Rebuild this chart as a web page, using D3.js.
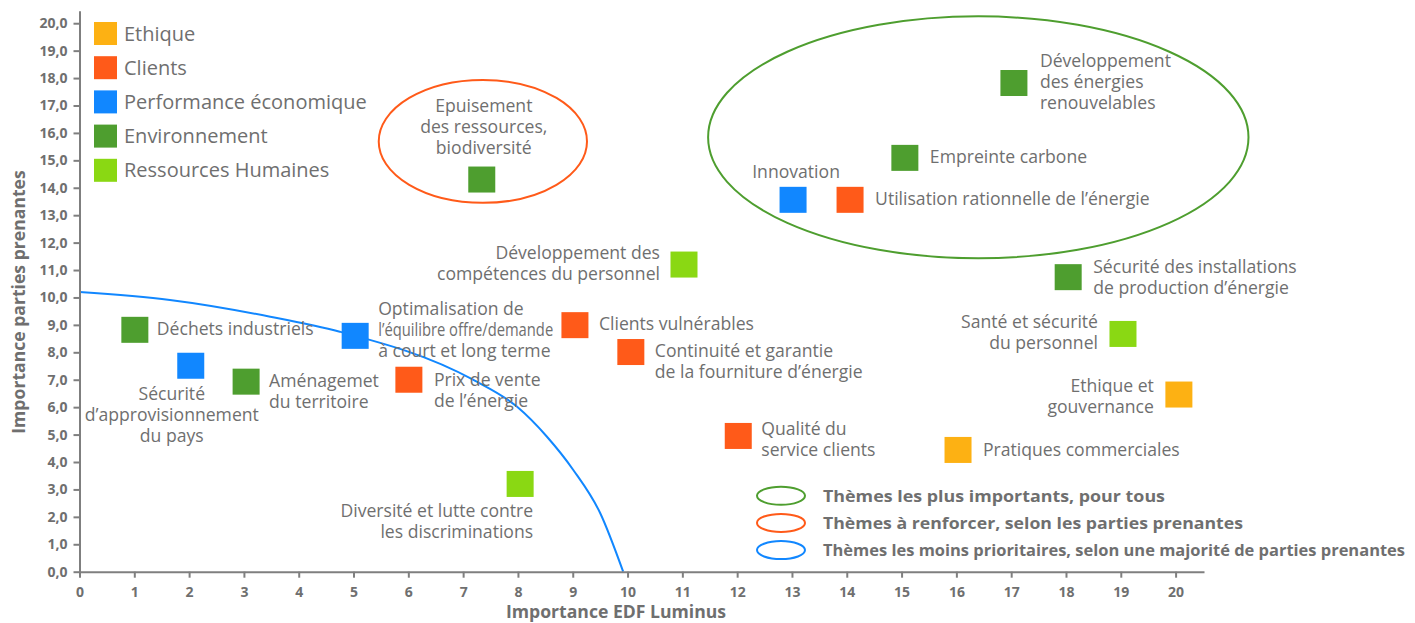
<!DOCTYPE html>
<html>
<head>
<meta charset="utf-8">
<script src="https://cdn.jsdelivr.net/npm/d3@7"></script>
<style>
  body { margin: 0; background: #fff; }
  svg { font-family: 'Open Sans', sans-serif; }
  .axis path, .axis line { stroke: #7f7f7f; stroke-width: 2; }
  .axis text { fill: #6f6f6f; font-weight: bold; font-size: 14px; font-family: 'Open Sans', sans-serif; }
  .theme-label { fill: #6f6f6f; font-size: 17.6px; }
  .legend-label { fill: #6f6f6f; font-size: 20px; }
  .zone-label { fill: #6f6f6f; font-size: 16.4px; font-weight: bold; }
  .axis-title { fill: #6f6f6f; font-size: 17.6px; font-weight: bold; }
</style>
</head>
<body>
<svg id="chart" width="1415" height="623"></svg>
<script>
// categories of themes
const categories = ['Ethique', 'Clients', 'Performance économique', 'Environnement', 'Ressources Humaines']
const categoryColors = ['#fdb113', '#ff5a19', '#1187ff', '#4e9e2f', '#8ad813']

// themes (label lines), importance EDF Luminus (x), importance parties prenantes (y), category
const themeNames = [
  ['Déchets industriels'],
  ['Sécurité', 'd’approvisionnement', 'du pays'],
  ['Aménagemet', 'du territoire'],
  ['Optimalisation de', 'l’équilibre offre/demande', 'à court et long terme'],
  ['Prix de vente', 'de l’énergie'],
  ['Epuisement', 'des ressources,', 'biodiversité'],
  ['Diversité et lutte contre', 'les discriminations'],
  ['Clients vulnérables'],
  ['Continuité et garantie', 'de la fourniture d’énergie'],
  ['Développement des', 'compétences du personnel'],
  ['Qualité du', 'service clients'],
  ['Innovation'],
  ['Utilisation rationnelle de l’énergie'],
  ['Empreinte carbone'],
  ['Pratiques commerciales'],
  ['Développement', 'des énergies', 'renouvelables'],
  ['Sécurité des installations', 'de production d’énergie'],
  ['Santé et sécurité', 'du personnel'],
  ['Ethique et', 'gouvernance']
]
const themeX = [1.01, 2.03, 3.04, 5.03, 6.01, 7.34, 8.04, 9.04, 10.06, 11.03, 12.02, 13.02, 14.06, 15.06, 16.03, 17.05, 18.04, 19.04, 20.06]
const themeY = [8.82, 7.51, 6.93, 8.6, 7.0, 14.3, 3.2, 8.99, 8.01, 11.2, 4.95, 13.56, 13.56, 15.09, 4.44, 17.82, 10.74, 8.67, 6.46]
const themeCategory = [3, 2, 3, 2, 1, 3, 4, 1, 1, 4, 1, 2, 1, 3, 0, 3, 3, 4, 0]

// zones drawn as ellipses (data units)
const zoneNames = [
  'Thèmes les plus importants, pour tous',
  'Thèmes à renforcer, selon les parties prenantes',
  'Thèmes les moins prioritaires, selon une majorité de parties prenantes'
]
const zoneColors = ['#4e9e2f', '#ff5a19', '#1187ff']
const zoneCx = [16.40, 7.36]
const zoneCy = [15.84, 15.69]
const zoneRx = [4.93, 1.90]
const zoneRy = [4.41, 2.24]

// threshold curve of the least prioritary themes
const curveX = [0, 1.65, 3.48, 4.75, 7.18, 7.98, 8.53, 9.01, 9.5, 9.92]
const curveY = [10.2, 9.91, 9.3, 8.75, 7.0, 6.02, 4.92, 3.71, 2.14, 0]

const xTicks = d3.range(0, 21)
const yTicks = d3.range(0, 21)

// label placement around the squares (px)
const labelLayout = [
  { anchor: 'start', dx: 22, dy: 5 },
  { anchor: 'middle', dx: -19, dy: 34 },
  { anchor: 'start', dx: 23, dy: 5 },
  { anchor: 'start', dx: 23, dy: -21, condensed: 1 },
  { anchor: 'start', dx: 25, dy: 6 },
  { anchor: 'middle', dx: 2, dy: -68 },
  { anchor: 'end', dx: 13, dy: 33 },
  { anchor: 'start', dx: 24, dy: 5 },
  { anchor: 'start', dx: 24, dy: 5 },
  { anchor: 'end', dx: -24, dy: -6 },
  { anchor: 'start', dx: 23, dy: -1 },
  { anchor: 'middle', dx: 3, dy: -22 },
  { anchor: 'start', dx: 25, dy: 5 },
  { anchor: 'start', dx: 25, dy: 5 },
  { anchor: 'start', dx: 25, dy: 6 },
  { anchor: 'start', dx: 26, dy: -16 },
  { anchor: 'start', dx: 25, dy: -4 },
  { anchor: 'end', dx: -25, dy: -6 },
  { anchor: 'end', dx: -25, dy: -3 }
]
const zoneLabelWidth = [342, 420, 582]

function matrix () {
  const svg = d3.select('#chart')
  const lineHeight = 21
  const box = { w: 27, h: 26 }

  const x = d3.scaleLinear().domain([0, 20.5]).range([79.5, 1203])
  const y = d3.scaleLinear().domain([0, 20.42]).range([571.7, 11.7])

  const themes = themeNames.map((lines, i) => ({
    lines,
    x: themeX[i],
    y: themeY[i],
    cat: themeCategory[i],
    layout: labelLayout[i]
  }))

  // zones
  const zones = zoneCx.map((cx, i) => ({ cx, cy: zoneCy[i], rx: zoneRx[i], ry: zoneRy[i], color: zoneColors[i] }))

  svg.append('g')
    .selectAll('ellipse')
    .data(zones)
    .join('ellipse')
    .attr('cx', d => x(d.cx))
    .attr('cy', d => y(d.cy))
    .attr('rx', d => x(d.rx) - x(0))
    .attr('ry', d => y(0) - y(d.ry))
    .attr('fill', 'none')
    .attr('stroke', d => d.color)
    .attr('stroke-width', 2)

  const curve = d3.line()
    .x(d => x(d[0]))
    .y(d => y(d[1]))
    .curve(d3.curveMonotoneX)

  svg.append('path')
    .datum(curveX.map((v, i) => [v, curveY[i]]))
    .attr('d', curve)
    .attr('fill', 'none')
    .attr('stroke', zoneColors[2])
    .attr('stroke-width', 2)

  // axes
  const fmt = d3.format('.1f')
  const axisX = d3.axisBottom(x).tickValues(xTicks).tickSize(6).tickSizeOuter(0).tickPadding(9).tickFormat(d3.format('d'))
  const axisY = d3.axisLeft(y).tickValues(yTicks).tickSize(6).tickSizeOuter(0).tickPadding(6).tickFormat(d => fmt(d).replace('.', ','))

  svg.append('g')
    .attr('class', 'axis axis-x')
    .attr('transform', `translate(0,${y(0)})`)
    .call(axisX)

  svg.append('g')
    .attr('class', 'axis axis-y')
    .attr('transform', `translate(${x(0)},0)`)
    .call(axisY)

  svg.selectAll('.axis .domain').attr('stroke-linecap', 'square')

  svg.append('text')
    .attr('class', 'axis-title')
    .attr('x', 616)
    .attr('y', 618)
    .attr('text-anchor', 'middle')
    .text('Importance EDF Luminus')

  svg.append('text')
    .attr('class', 'axis-title')
    .attr('transform', 'translate(25,302) rotate(-90)')
    .attr('text-anchor', 'middle')
    .text('Importance parties prenantes')

  // squares and labels
  const pts = svg.append('g')
    .selectAll('g')
    .data(themes)
    .join('g')
    .attr('transform', d => `translate(${x(d.x)},${y(d.y)})`)

  pts.append('rect')
    .attr('x', -box.w / 2)
    .attr('y', -box.h / 2)
    .attr('width', box.w)
    .attr('height', box.h)
    .attr('fill', d => categoryColors[d.cat])

  const label = pts.append('text')
    .attr('class', 'theme-label')
    .attr('text-anchor', d => d.layout.anchor)

  label.selectAll('tspan')
    .data(d => d.lines.map((t, j) => ({ t, j, layout: d.layout })))
    .join('tspan')
    .attr('x', d => d.layout.dx)
    .attr('y', d => d.layout.dy + d.j * lineHeight)
    .attr('textLength', d => d.layout.condensed === d.j ? 175 : null)
    .attr('lengthAdjust', 'spacingAndGlyphs')
    .text(d => d.t)

  // category legend
  const leg = svg.append('g')
    .selectAll('g')
    .data(categories)
    .join('g')
    .attr('transform', (d, i) => `translate(94,${33.5 + i * 34.2})`)

  leg.append('rect')
    .attr('y', -11.5)
    .attr('width', 23)
    .attr('height', 23)
    .attr('fill', (d, i) => categoryColors[i])

  leg.append('text')
    .attr('class', 'legend-label')
    .attr('x', 30)
    .attr('y', 7)
    .text(d => d)

  // zone legend
  const zl = svg.append('g')
    .selectAll('g')
    .data(zoneNames)
    .join('g')
    .attr('transform', (d, i) => `translate(781,${495.7 + i * 27.2})`)

  zl.append('ellipse')
    .attr('rx', 24)
    .attr('ry', 9)
    .attr('fill', 'none')
    .attr('stroke', (d, i) => zoneColors[i])
    .attr('stroke-width', 2)

  zl.append('text')
    .attr('class', 'zone-label')
    .attr('x', 42)
    .attr('y', 6)
    .attr('textLength', (d, i) => zoneLabelWidth[i])
    .attr('lengthAdjust', 'spacingAndGlyphs')
    .text(d => d)
}

matrix()
</script>
</body>
</html>
